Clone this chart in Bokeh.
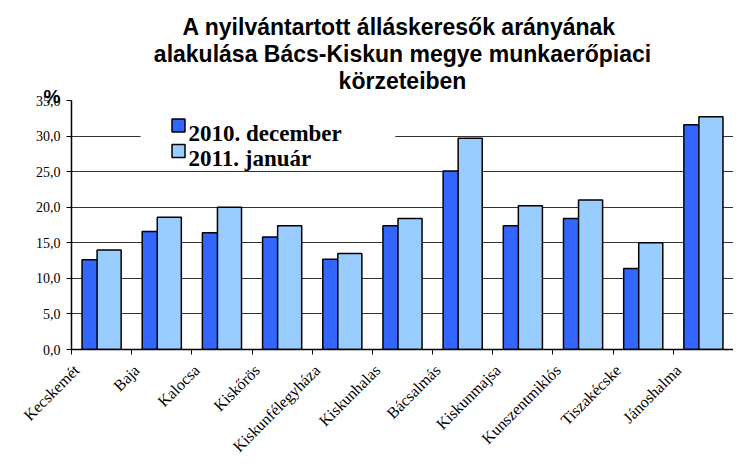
import math
from bokeh.plotting import figure
from bokeh.models import (Range1d, FixedTicker, Title, ColumnDataSource,
                          CustomJSTickFormatter)
from bokeh.core.properties import value
from bokeh.embed import file_html
from bokeh.resources import INLINE

categories = ["Kecskemét", "Baja", "Kalocsa", "Kiskőrös", "Kiskunfélegyháza",
              "Kiskunhalas", "Bácsalmás", "Kiskunmajsa", "Kunszentmiklós",
              "Tiszakécske", "Jánoshalma"]
dec_2010 = [12.6, 16.6, 16.4, 15.8, 12.7, 17.4, 25.1, 17.4, 18.4, 11.4, 31.6]
jan_2011 = [14.0, 18.6, 20.0, 17.4, 13.5, 18.4, 29.7, 20.2, 21.0, 15.0, 32.7]
series_names = ["2010. december", "2011. január"]
y_ticks = [0, 5, 10, 15, 20, 25, 30, 35]
y_tick_labels = ["0,0", "5,0", "10,0", "15,0", "20,0", "25,0", "30,0", "35,0"]
title_lines = ["A nyilvántartott álláskeresők  arányának",
               "alakulása Bács-Kiskun megye munkaerőpiaci",
               "körzeteiben"]
y_unit = "%"

DARK = "#3366FF"
LIGHT = "#99CCFF"
n = len(categories)
LABEL_SHIFT = 0.416  # category label anchor sits left of the category centre

p = figure(width=733, height=464, output_backend="svg", toolbar_location=None,
           x_range=Range1d(0, n), y_range=Range1d(0, 35),
           min_border_left=71, min_border_right=0, min_border_top=100,
           min_border_bottom=113)
p.outline_line_color = None
p.background_fill_color = "white"
p.border_fill_color = "white"

xs = [i + 0.5 for i in range(n)]
src = ColumnDataSource(dict(x_dark=[x - 0.125 for x in xs],
                            x_light=[x + 0.125 for x in xs],
                            dec=dec_2010, jan=jan_2011))

p.vbar(x="x_dark", top="dec", width=0.4, source=src, fill_color=DARK,
       line_color="black", line_width=1.5)
p.vbar(x="x_light", top="jan", width=0.4, source=src, fill_color=LIGHT,
       line_color="black", line_width=1.5)

# y axis
p.yaxis.ticker = FixedTicker(ticks=y_ticks)
p.yaxis.major_label_overrides = {t: l for t, l in zip(y_ticks, y_tick_labels)}
p.yaxis.major_label_text_font = "Liberation Serif"
p.yaxis.major_label_text_font_size = "14px"
p.yaxis.major_label_text_color = "black"
p.yaxis.major_tick_out = 5
p.yaxis.major_tick_in = 0
p.yaxis.minor_tick_out = 0
p.yaxis.minor_tick_in = 0
p.yaxis.major_label_standoff = 6
p.yaxis.axis_line_color = "black"
p.yaxis.axis_line_width = 1.5
p.yaxis.major_tick_line_color = "black"

# x axis: labels at shifted positions, tick marks at category boundaries
label_pos = [x - LABEL_SHIFT for x in xs]
p.xaxis.ticker = FixedTicker(ticks=label_pos, minor_ticks=list(range(n + 1)))
p.xaxis.formatter = CustomJSTickFormatter(
    args=dict(names=categories, shift=LABEL_SHIFT),
    code="const i = Math.round(tick + shift - 0.5); return names[i] ?? '';")
p.xaxis.major_label_orientation = math.pi / 4
p.xaxis.major_label_text_font = "Liberation Serif"
p.xaxis.major_label_text_font_size = "16px"
p.xaxis.major_label_text_color = "black"
p.xaxis.major_label_standoff = 13
p.xaxis.major_tick_out = 0
p.xaxis.major_tick_in = 0
p.xaxis.minor_tick_out = 5
p.xaxis.minor_tick_in = 0
p.xaxis.minor_tick_line_color = "black"
p.xaxis.axis_line_color = "black"
p.xaxis.axis_line_width = 1.5

p.xgrid.grid_line_color = None
p.ygrid.ticker = FixedTicker(ticks=y_ticks)
p.ygrid.grid_line_color = "#333333"
p.ygrid.grid_line_width = 1

# legend drawn by hand: white box, swatches, labels
p.quad(left=[1.147], right=[5.38], bottom=[26.0], top=[33.9],
       fill_color="white", line_color=None)
leg = ColumnDataSource(dict(sx=[1.778, 1.778], sy=[31.5, 27.9],
                            tx=[1.944, 1.944], ty=[30.4, 26.9],
                            name=series_names, col=[DARK, LIGHT]))
p.scatter(x="sx", y="sy", marker="square", size=13, fill_color="col",
          line_color="black", line_width=1.5, source=leg)
p.text(x="tx", y="ty", text="name", source=leg,
       text_font=value("Liberation Serif"), text_font_style="bold",
       text_font_size="23px", text_baseline="alphabetic", text_color="black")

# header rows, nearest the frame first: unit sign, then title lines bottom-up
p.add_layout(Title(text=y_unit, align="left", offset=-28, standoff=-30,
                   vertical_align="top",
                   text_font="Liberation Sans", text_font_style="bold",
                   text_font_size="19px", text_color="black"), "above")
title_standoffs = [14, -16, 14]  # for lines 1..3
for line, so in reversed(list(zip(title_lines, title_standoffs))):
    p.add_layout(Title(text=line, align="center", offset=10, standoff=so,
                       text_font="Liberation Sans", text_font_style="bold",
                       text_font_size="23px", text_color="black"), "above")

open("out.html", "w").write(file_html(p, INLINE))
